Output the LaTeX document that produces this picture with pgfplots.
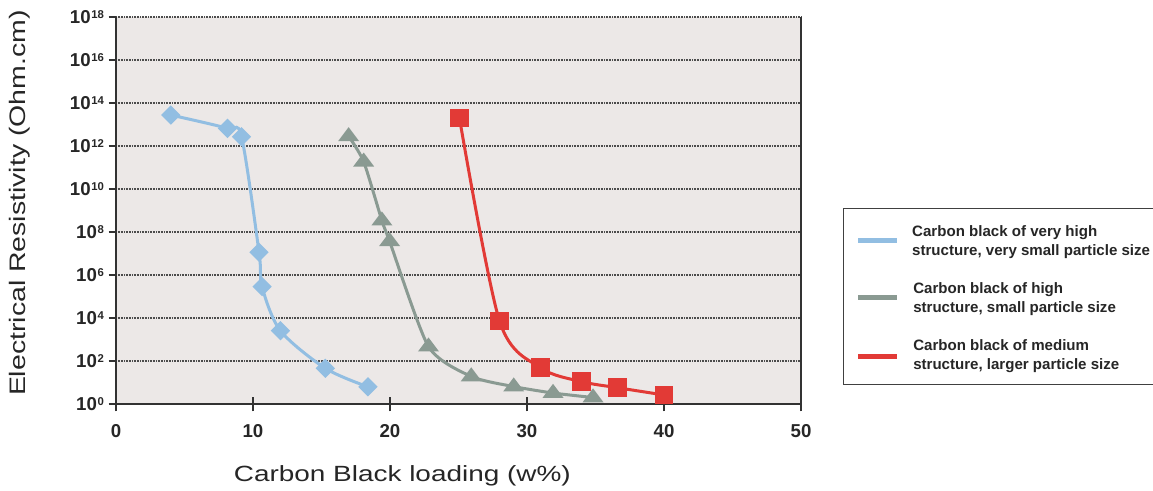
\documentclass[border=0pt]{standalone}
\usepackage{fontspec}
\setmainfont{Liberation Sans}
\newfontfamily\labelfont[FakeStretch=1.27]{Liberation Sans}
\usepackage{pgfplots}
\pgfplotsset{compat=1.18}

\definecolor{bgcol}{RGB}{236,232,231}
\definecolor{cblue}{RGB}{146,190,226}
\definecolor{cgreen}{RGB}{138,154,146}
\definecolor{cred}{RGB}{226,58,54}
\definecolor{axcol}{RGB}{50,50,50}

% 10 with a small bold exponent
\newcommand{\ex}[1]{10\hspace{0.5pt}\raisebox{3.6pt}{\fontsize{8.5}{9}\selectfont #1}}

\tikzset{legtext/.style={anchor=base west, inner sep=0pt, text=black!85,
    font=\bfseries\fontsize{11.3}{13}\selectfont}}

\begin{document}
\begin{tikzpicture}
\begin{axis}[
    scale only axis,
    width=513.75pt, height=290.25pt,
    xmin=0, xmax=50,
    ymode=log, ymin=1, ymax=1e18,
    axis x line*=bottom, axis y line*=left,
    axis line style={axcol, line width=1.5pt},
    axis background/.style={fill=bgcol},
    clip=false,
    xtick={0,10,20,30,40,50},
    ytick={1,1e2,1e4,1e6,1e8,1e10,1e12,1e14,1e16,1e18},
    yticklabels={\ex{0},\ex{2},\ex{4},\ex{6},\ex{8},\ex{10},\ex{12},\ex{14},\ex{16},\ex{18}},
    minor y tick num=0,
    tick align=outside,
    major tick length=5.5pt,
    tick style={axcol, line width=1pt},
    extra x ticks={0,10,20,30,40,50},
    extra x tick labels={},
    extra x tick style={tick align=inside},
    ymajorgrids,
    grid style={black!70, line width=0.8pt, dash pattern=on 0.6pt off 0.6pt},
    /pgf/number format/assume math mode=true,
    ticklabel style={font=\bfseries\fontsize{14}{16}\selectfont, text=black!85},
    xticklabel style={yshift=-6.5pt},
    xlabel={Carbon Black loading (w\%)},
    ylabel={Electrical Resistivity (Ohm.cm)},
    every axis x label/.style={at={(axis description cs:0.418,-0.199)}, anchor=base,
        font=\labelfont\fontsize{16.5}{18}\selectfont, text=black!85},
    every axis y label/.style={at={(axis description cs:-0.1328,0.519)}, rotate=90, anchor=base,
        font=\labelfont\fontsize{16.8}{18}\selectfont, text=black!85},
]

% very high structure, very small particle size
\addplot[cblue, line width=2.25pt, smooth,
    mark=square*, mark size=4pt, mark options={rotate=45, draw=none, fill=cblue}]
coordinates {
    (4.0, 2.75e13) (8.14, 6.61e12) (9.16, 2.69e12) (10.44, 1.15e7)
    (10.66, 2.88e5) (12.0, 2.57e3) (15.28, 45.7) (18.39, 6.31)
};

% high structure, small particle size
\addplot[cgreen, line width=2.25pt, smooth, tension=0.4,
    mark=triangle*, mark size=6.5pt, mark options={yscale=0.77, draw=none, fill=cgreen}]
coordinates {
    (16.98, 2.82e12) (18.08, 1.86e11) (19.41, 3.39e8) (19.97, 3.72e7)
    (22.81, 468) (25.93, 19.1) (29.03, 6.46) (31.9, 3.24) (34.82, 2.0)
};

% medium structure, larger particle size
\addplot[cred, line width=2.25pt, smooth,
    mark=square*, mark size=5.8pt, mark options={draw=none, fill=cred}]
coordinates {
    (25.07, 2.0e13) (27.99, 7.41e3) (30.98, 49) (33.97, 11)
    (36.59, 5.75) (40.01, 2.63)
};

\draw[axcol, line width=1.5pt] (rel axis cs:1,0) -- (rel axis cs:1,1);

% legend box (runs off the right edge, as in the original)
\draw[black!75, line width=0.6pt, fill=white]
    (rel axis cs:1.0613,0.0516) rectangle (rel axis cs:1.545,0.5061);
\draw[cblue, line width=3.75pt] (rel axis cs:1.0832,0.4234) -- (rel axis cs:1.1401,0.4234);
\draw[cgreen, line width=3.75pt] (rel axis cs:1.0832,0.2745) -- (rel axis cs:1.1401,0.2745);
\draw[cred, line width=3.75pt] (rel axis cs:1.0832,0.1239) -- (rel axis cs:1.1401,0.1239);
\node[legtext] at (rel axis cs:1.1620,0.4338) {Carbon black of very high};
\node[legtext] at (rel axis cs:1.1620,0.3847) {structure, very small particle size};
\node[legtext] at (rel axis cs:1.1635,0.2858) {Carbon black of high};
\node[legtext] at (rel axis cs:1.1635,0.2368) {structure, small particle size};
\node[legtext] at (rel axis cs:1.1635,0.1376) {Carbon black of medium};
\node[legtext] at (rel axis cs:1.1635,0.0896) {structure, larger particle size};
\end{axis}
\pgfresetboundingbox
\useasboundingbox (-87pt,-64.5pt) rectangle (777.75pt,303pt);
\end{tikzpicture}
\end{document}
